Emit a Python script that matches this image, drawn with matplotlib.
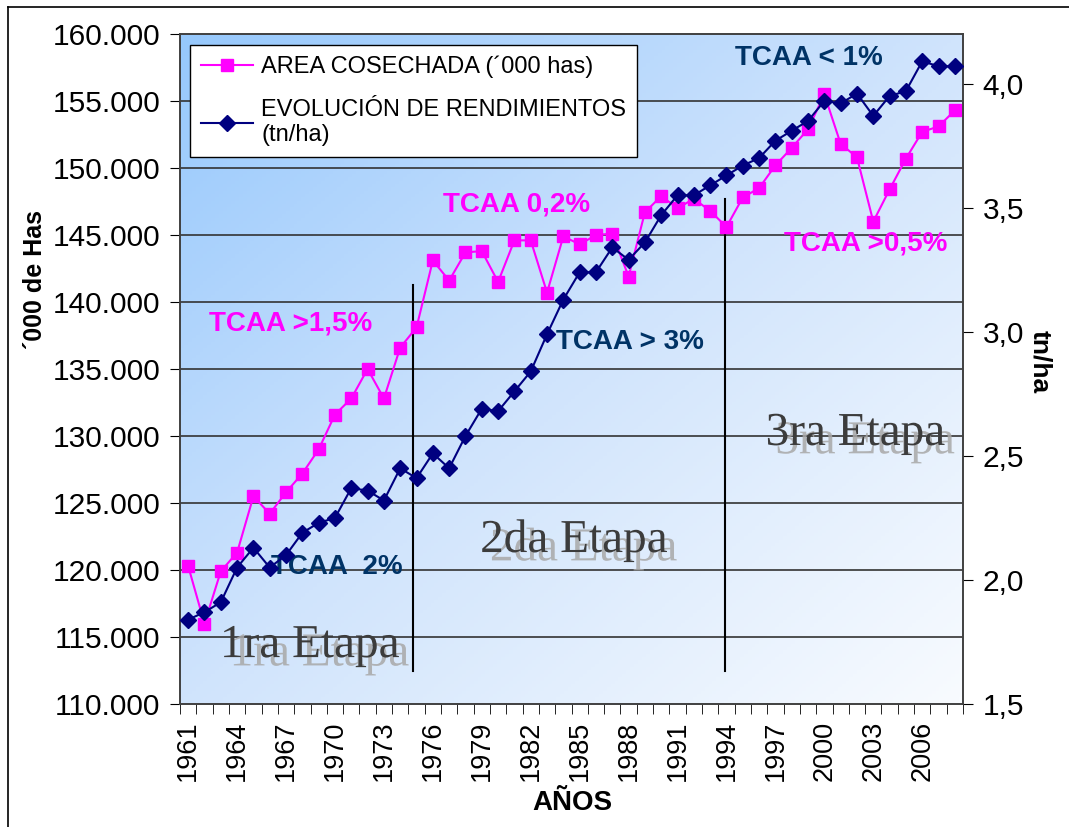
import matplotlib
matplotlib.use("Agg")
import matplotlib.pyplot as plt
import matplotlib.patheffects as pe
from matplotlib.lines import Line2D
from matplotlib.colors import LinearSegmentedColormap
import numpy as np

years = list(range(1961, 2009))

# area cosechada ('000 has)
area = [120300, 116000, 119900, 121300, 125500, 124200, 125800, 127200, 129000, 131600,
        132800, 135000, 132800, 136600, 138100, 143100, 141600, 143700, 143800, 141500,
        144600, 144600, 140700, 144900, 144300, 145000, 145100, 141900, 146700, 147900,
        147000, 147700, 146800, 145600, 147800, 148500, 150200, 151500, 152900, 155500,
        151800, 150800, 146000, 148400, 150700, 152700, 153100, 154300]

# rendimientos (tn/ha)
rend = [1.84, 1.87, 1.91, 2.05, 2.13, 2.05, 2.10, 2.19, 2.23, 2.25,
        2.37, 2.36, 2.32, 2.45, 2.41, 2.51, 2.45, 2.58, 2.69, 2.68,
        2.76, 2.84, 2.99, 3.13, 3.24, 3.24, 3.34, 3.29, 3.36, 3.47,
        3.55, 3.55, 3.59, 3.63, 3.67, 3.70, 3.77, 3.81, 3.85, 3.93,
        3.92, 3.96, 3.87, 3.95, 3.97, 4.09, 4.07, 4.07]

left_ticks = [110000, 115000, 120000, 125000, 130000, 135000, 140000, 145000, 150000, 155000, 160000]
right_ticks = [1.5, 2.0, 2.5, 3.0, 3.5, 4.0]
label_years = list(range(1961, 2009, 3))

PINK = "#FF00FF"
NAVY = "#000080"
DARKBLUE = "#003366"

plt.rcParams['font.family'] = ['Liberation Sans', 'DejaVu Sans']

fig = plt.figure(figsize=(10.69, 8.27), dpi=100)
ax = fig.add_axes([180/1069, 1-704/827, 783/1069, 670/827])
ax2 = ax.twinx()

# background gradient
gx, gy = np.meshgrid(np.linspace(0, 1, 200), np.linspace(0, 1, 200))
grad = (gx + gy) / 2
cmap = LinearSegmentedColormap.from_list("bg", ["#96C8FC", "#D0E4FC", "#F8FBFF"])
ax.imshow(grad, extent=[0, 1, 0, 1], transform=ax.transAxes, cmap=cmap,
          aspect='auto', zorder=0, origin='upper')

ax.set_xlim(1960.5, 2008.5)
ax.set_ylim(110000, 160000)
ax2.set_ylim(1.5, 4.2)

for v in left_ticks[1:-1]:
    ax.axhline(v, color='#333333', lw=1.2, zorder=1)

# vertical stage separators
ax.plot([1974.8, 1974.8], [112500, 141300], color='black', lw=1.5, zorder=2)
ax.plot([1993.9, 1993.9], [112500, 147700], color='black', lw=1.5, zorder=2)

l1, = ax.plot(years, area, color=PINK, lw=1.5, marker='s', markersize=8,
              markerfacecolor=PINK, markeredgecolor=PINK, zorder=4)
l2, = ax2.plot(years, rend, color=NAVY, lw=1.5, marker='D', markersize=8,
               markerfacecolor=NAVY, markeredgecolor=NAVY, zorder=4)

ax.set_yticks(left_ticks)
ax.set_yticklabels([f"{v:,}".replace(",", ".") for v in left_ticks], fontsize=21.5)
ax2.set_yticks(right_ticks)
ax2.set_yticklabels([f"{v:.1f}".replace(".", ",") for v in right_ticks], fontsize=21.5)
ax.set_xticks(label_years)
ax.set_xticklabels([str(y) for y in label_years], rotation=90, fontsize=19.5)
ax.set_xticks(np.arange(1960.5, 2009, 1), minor=True)
ax.tick_params(axis='x', which='major', length=0, pad=12)
ax.tick_params(axis='x', which='minor', length=7, direction='out')
ax.tick_params(axis='y', length=7, pad=7)
ax2.tick_params(axis='y', length=7, pad=7)

for a in (ax, ax2):
    for s in a.spines.values():
        s.set_color('#404040')
        s.set_linewidth(1.2)

fig.text(35/1069, 1-280/827, "´000 de Has", rotation=90, ha='center', va='center',
         fontsize=18, fontweight='bold', family=['Liberation Sans Narrow', 'Liberation Sans'])
fig.text(1040/1069, 1-362/827, "tn/ha", rotation=270, ha='center', va='center',
         fontsize=19, fontweight='bold', family=['Liberation Sans Narrow', 'Liberation Sans'])
fig.text(572/1069, 1-803/827, "AÑOS", ha='center', va='center',
         fontsize=20, fontweight='bold', family=['Liberation Sans Narrow', 'Liberation Sans'])

# growth-rate annotations
tk = dict(fontsize=20, fontweight='bold', va='center', ha='left', zorder=5)
ax.text(1962.3, 138400, "TCAA >1,5%", color=PINK, **tk)
ax.text(1976.6, 147240, "TCAA 0,2%", color=PINK, **tk)
ax.text(1997.5, 144330, "TCAA >0,5%", color=PINK, **tk)
ax.text(1983.55, 137000, "TCAA > 3%", color=DARKBLUE, **tk)
ax.text(1966.1, 120220, "TCAA  2%", color=DARKBLUE, **tk)
ax.text(1994.5, 158210, "TCAA < 1%", color=DARKBLUE, **tk)

# stage labels
shadow = [pe.SimplePatchShadow(offset=(7, -6), shadow_rgbFace='#a8a8a8', alpha=0.85), pe.Normal()]
ek = dict(fontsize=34, family=['Liberation Serif'], color='#3c3c3c', ha='left',
          va='baseline', zorder=3, path_effects=shadow)
ax.text(1962.95, 113500, "1ra Etapa", **ek)
ax.text(1978.9, 121340, "2da Etapa", **ek)
ax.text(1996.4, 129330, "3ra Etapa", **ek)

leg = ax.legend([l1, l2], ["AREA COSECHADA (´000 has)", "EVOLUCIÓN DE RENDIMIENTOS\n(tn/ha)"],
                loc='upper left', bbox_to_anchor=(0.013, 0.984), borderaxespad=0,
                fontsize=17, fancybox=False, framealpha=1, edgecolor='black',
                handlelength=2.2, handletextpad=0.35, labelspacing=0.9, borderpad=0.45)
leg.get_frame().set_linewidth(1.0)
leg.set_zorder(6)

# outer chart frame
fig.add_artist(Line2D([8/1069, 8/1069], [0, 1-7/827], color='black', lw=1.2))
fig.add_artist(Line2D([8/1069, 1], [1-7/827, 1-7/827], color='black', lw=1.2))

fig.savefig("out.png", dpi=100)
